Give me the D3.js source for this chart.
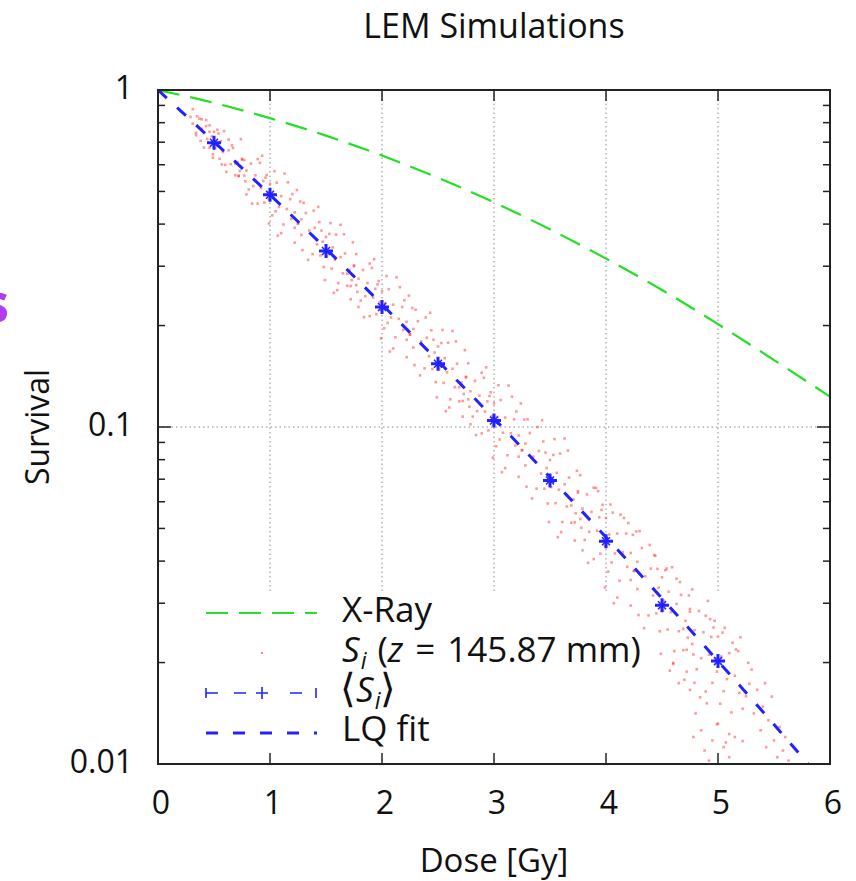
<!DOCTYPE html>
<html>
<head>
<meta charset="utf-8">
<script src="https://cdn.jsdelivr.net/npm/d3@7"></script>
<style>
  html, body { margin: 0; padding: 0; background: #fff; }
  svg { display: block; font-family: "Open Sans", "DejaVu Sans", sans-serif; }
</style>
</head>
<body>
<svg id="chart" width="856" height="881"></svg>
<script>
// ---------------- data ----------------
const xTicks = [0, 1, 2, 3, 4, 5, 6];
const yTicks = [1, 0.1, 0.01];
const yTickLabels = ["1", "0.1", "0.01"];

// X-Ray reference curve
const xrayDose = [0, 0.5, 1, 1.5, 2, 2.5, 3, 3.5, 4, 4.5, 5, 5.5, 6];
const xraySurvival = [1, 0.916, 0.825, 0.732, 0.639, 0.549, 0.464, 0.386, 0.316, 0.255, 0.202, 0.158, 0.123];

// LQ fit to the LEM simulations
const lqDose = [0, 0.5, 1, 1.5, 2, 2.5, 3, 3.5, 4, 4.5, 5, 5.5, 6];
const lqSurvival = [1, 0.702, 0.489, 0.338, 0.231, 0.157, 0.106, 0.0709, 0.0471, 0.0310, 0.0202, 0.0131, 0.0084];

// mean survival <S_i>
const meanDose = [0.5, 1, 1.5, 2, 2.5, 3, 3.5, 4, 4.5, 5];
const meanSurvival = [0.697, 0.489, 0.333, 0.227, 0.154, 0.1045, 0.0694, 0.0458, 0.0296, 0.0202];

// individual simulations S_i (dose, log10 survival), estimated from the point cloud
const scatterDose = [
  0.29,0.34,0.37,0.39,0.41,0.43,0.44,0.46,0.46,0.48,0.49,0.50,0.51,0.52,0.53,0.55,0.56,0.58,0.59,0.61,0.63,0.65,0.67,0.69,0.71,0.73,0.75,0.31,0.35,0.78,
  1.28,1.22,1.18,1.15,1.12,1.10,1.08,1.06,1.05,1.03,1.02,1.00,0.99,0.98,0.97,0.95,0.94,0.92,0.91,0.89,0.87,0.85,0.83,0.81,0.79,0.77,0.75,1.25,1.20,0.72,
  1.22,1.28,1.32,1.35,1.38,1.40,1.42,1.44,1.45,1.47,1.48,1.50,1.51,1.52,1.53,1.55,1.56,1.58,1.59,1.61,1.63,1.65,1.67,1.69,1.71,1.73,1.75,1.25,1.30,1.78,
  2.28,2.22,2.18,2.15,2.12,2.10,2.08,2.06,2.05,2.03,2.02,2.00,1.99,1.98,1.97,1.95,1.94,1.92,1.91,1.89,1.87,1.85,1.83,1.81,1.79,1.77,1.75,2.25,2.20,1.72,
  2.22,2.28,2.32,2.35,2.38,2.40,2.42,2.44,2.45,2.47,2.48,2.50,2.51,2.52,2.53,2.55,2.56,2.58,2.59,2.61,2.63,2.65,2.67,2.69,2.71,2.73,2.75,2.25,2.30,2.78,
  3.28,3.22,3.18,3.15,3.12,3.10,3.08,3.06,3.05,3.03,3.02,3.00,2.99,2.98,2.97,2.95,2.94,2.92,2.91,2.89,2.87,2.85,2.83,2.81,2.79,2.77,2.75,3.25,3.20,2.72,
  3.22,3.28,3.32,3.35,3.38,3.40,3.42,3.44,3.45,3.47,3.48,3.50,3.51,3.52,3.53,3.55,3.56,3.58,3.59,3.61,3.63,3.65,3.67,3.69,3.71,3.73,3.75,3.25,3.30,3.78,
  4.28,4.22,4.18,4.15,4.12,4.10,4.08,4.06,4.05,4.03,4.02,4.00,3.99,3.98,3.97,3.95,3.94,3.92,3.91,3.89,3.87,3.85,3.83,3.81,3.79,3.77,3.75,4.25,4.20,3.72,
  4.22,4.28,4.32,4.35,4.38,4.40,4.42,4.44,4.45,4.47,4.48,4.50,4.51,4.52,4.53,4.55,4.56,4.58,4.59,4.61,4.63,4.65,4.67,4.69,4.71,4.73,4.75,4.25,4.30,4.78,
  5.28,5.22,5.18,5.15,5.12,5.10,5.08,5.06,5.05,5.03,5.02,5.00,4.99,4.98,4.97,4.95,4.94,4.92,4.91,4.89,4.87,4.85,4.83,4.81,4.79,4.77,4.75,5.25,5.20,4.72,
  4.80,4.85,4.90,4.95,5.00,4.75,4.70,5.05,5.10,4.88,4.60,4.65,5.15,4.78,4.92,5.32,5.35,5.38,5.40,5.43,5.45,5.48,5.50,5.53,5.55,5.58,5.60,5.63,5.30,5.42,
  0.31,0.38,0.43,0.49,0.54,0.60,0.66,0.72,0.77,0.34,0.39,0.57,0.63,0.46,0.69,
  0.74,0.84,0.93,0.99,1.04,1.10,1.16,1.22,1.27,0.79,0.89,1.07,1.13,0.96,1.19,
  1.24,1.34,1.43,1.49,1.54,1.60,1.66,1.72,1.77,1.29,1.39,1.57,1.63,1.46,1.69,
  1.74,1.84,1.93,1.99,2.04,2.10,2.16,2.22,2.27,1.79,1.89,2.07,2.13,1.96,2.19,
  2.24,2.34,2.43,2.49,2.54,2.60,2.66,2.72,2.77,2.29,2.39,2.57,2.63,2.46,2.69,
  2.74,2.84,2.93,2.99,3.04,3.10,3.16,3.22,3.27,2.79,2.89,3.07,3.13,2.96,3.19,
  3.24,3.34,3.43,3.49,3.54,3.60,3.66,3.72,3.77,3.29,3.39,3.57,3.63,3.46,3.69,
  3.74,3.84,3.93,3.99,4.04,4.10,4.16,4.22,4.27,3.79,3.89,4.07,4.13,3.96,4.19,
  4.24,4.34,4.43,4.49,4.54,4.60,4.66,4.72,4.77,4.29,4.39,4.57,4.63,4.46,4.69,
  4.74,4.84,4.93,4.99,5.04,5.10,5.16,5.22,5.27,4.79,4.89,5.07,5.13,4.96,5.19
];
const scatterLog10S = [
  -0.080,-0.127,-0.085,-0.115,-0.171,-0.107,-0.145,-0.105,-0.171,-0.138,-0.201,-0.124,-0.172,-0.160,-0.118,-0.204,-0.152,-0.184,-0.122,-0.243,-0.179,-0.220,-0.172,-0.253,-0.214,-0.240,-0.207,-0.100,-0.078,-0.271,
  -0.384,-0.409,-0.324,-0.353,-0.399,-0.315,-0.347,-0.275,-0.360,-0.310,-0.372,-0.278,-0.324,-0.305,-0.252,-0.334,-0.270,-0.291,-0.216,-0.337,-0.253,-0.285,-0.218,-0.295,-0.239,-0.254,-0.204,-0.396,-0.309,-0.255,
  -0.363,-0.430,-0.365,-0.417,-0.487,-0.409,-0.458,-0.392,-0.491,-0.450,-0.525,-0.436,-0.493,-0.478,-0.427,-0.530,-0.467,-0.504,-0.429,-0.573,-0.496,-0.544,-0.485,-0.581,-0.534,-0.564,-0.523,-0.396,-0.335,-0.599,
  -0.709,-0.741,-0.644,-0.679,-0.734,-0.637,-0.675,-0.591,-0.691,-0.633,-0.707,-0.597,-0.652,-0.629,-0.567,-0.665,-0.590,-0.616,-0.528,-0.671,-0.573,-0.612,-0.534,-0.625,-0.560,-0.579,-0.520,-0.725,-0.624,-0.582,
  -0.688,-0.764,-0.686,-0.746,-0.826,-0.735,-0.790,-0.713,-0.828,-0.779,-0.867,-0.761,-0.828,-0.810,-0.751,-0.869,-0.796,-0.838,-0.750,-0.918,-0.827,-0.882,-0.812,-0.924,-0.868,-0.902,-0.853,-0.726,-0.652,-0.940,
  -1.049,-1.088,-0.977,-1.019,-1.084,-0.972,-1.017,-0.920,-1.037,-0.970,-1.057,-0.930,-0.994,-0.968,-0.897,-1.010,-0.924,-0.954,-0.854,-1.019,-0.907,-0.953,-0.863,-0.969,-0.894,-0.918,-0.851,-1.069,-0.954,-0.923,
  -1.025,-1.114,-1.018,-1.088,-1.183,-1.071,-1.138,-1.043,-1.183,-1.122,-1.227,-1.098,-1.178,-1.156,-1.083,-1.226,-1.136,-1.186,-1.079,-1.282,-1.170,-1.236,-1.150,-1.284,-1.215,-1.256,-1.195,-1.069,-0.977,-1.299,
  -1.400,-1.454,-1.316,-1.372,-1.456,-1.316,-1.375,-1.254,-1.402,-1.319,-1.429,-1.270,-1.352,-1.320,-1.231,-1.376,-1.268,-1.308,-1.181,-1.392,-1.252,-1.311,-1.200,-1.335,-1.242,-1.273,-1.190,-1.427,-1.285,-1.283,
  -1.374,-1.481,-1.359,-1.443,-1.559,-1.420,-1.500,-1.382,-1.553,-1.477,-1.606,-1.446,-1.544,-1.516,-1.425,-1.601,-1.489,-1.549,-1.416,-1.665,-1.525,-1.606,-1.498,-1.662,-1.575,-1.625,-1.548,-1.427,-1.309,-1.675,
  -1.762,-1.836,-1.665,-1.738,-1.847,-1.671,-1.748,-1.596,-1.784,-1.681,-1.821,-1.622,-1.726,-1.686,-1.575,-1.759,-1.623,-1.676,-1.516,-1.785,-1.609,-1.686,-1.546,-1.719,-1.603,-1.644,-1.540,-1.799,-1.624,-1.661,
  -1.85,-1.90,-1.82,-1.93,-1.88,-1.78,-1.75,-1.95,-1.98,-1.96,-1.70,-1.76,-1.92,-1.92,-1.99,-1.85,-1.78,-1.90,-1.83,-1.95,-1.87,-1.80,-1.93,-1.98,-1.89,-1.96,-1.92,-1.99,-1.72,-1.76,
  -0.057,-0.151,-0.089,-0.191,-0.129,-0.222,-0.164,-0.255,-0.208,-0.134,-0.087,-0.221,-0.147,-0.124,-0.218,
  -0.146,-0.337,-0.195,-0.396,-0.241,-0.425,-0.274,-0.453,-0.331,-0.310,-0.205,-0.432,-0.248,-0.260,-0.382,
  -0.297,-0.504,-0.347,-0.564,-0.395,-0.594,-0.428,-0.621,-0.487,-0.475,-0.358,-0.602,-0.400,-0.417,-0.545,
  -0.452,-0.674,-0.502,-0.737,-0.552,-0.767,-0.585,-0.793,-0.647,-0.644,-0.515,-0.776,-0.556,-0.577,-0.712,
  -0.610,-0.847,-0.661,-0.912,-0.712,-0.942,-0.746,-0.969,-0.811,-0.816,-0.675,-0.953,-0.715,-0.741,-0.882,
  -0.772,-1.024,-0.823,-1.091,-0.876,-1.122,-0.910,-1.148,-0.978,-0.992,-0.839,-1.134,-0.877,-0.908,-1.055,
  -0.930,-1.212,-0.980,-1.282,-1.036,-1.312,-1.070,-1.337,-1.143,-1.177,-1.000,-1.327,-1.034,-1.076,-1.233,
  -1.130,-1.403,-1.190,-1.476,-1.230,-1.506,-1.270,-1.530,-1.310,-1.366,-1.180,-1.523,-1.260,-1.246,-1.415,
  -1.320,-1.597,-1.380,-1.673,-1.420,-1.703,-1.460,-1.726,-1.482,-1.558,-1.350,-1.723,-1.450,-1.421,-1.599,
  -1.500,-1.802,-1.570,-1.882,-1.610,-1.911,-1.660,-1.932,-1.700,-1.759,-1.560,-1.936,-1.640,-1.595,-1.789
];

// ---------------- layout ----------------
const svg = d3.select("#chart");
const L = 158, R = 830, T = 90, B = 764;
const x = d3.scaleLinear().domain([0, 6]).range([L, R]);
const y = d3.scaleLog().domain([0.01, 1]).range([B, T]);

const GREEN = "#22e022", BLUE = "#2222ff", RED = "#ff2020";

svg.append("defs").append("clipPath").attr("id", "plotclip")
  .append("rect").attr("x", L).attr("y", T).attr("width", R - L).attr("height", B - T);

// grid (dotted), hidden under the key area
const grid = svg.append("g");
[1, 2, 3, 4, 5].forEach(v => {
  grid.append("line").attr("x1", x(v)).attr("x2", x(v)).attr("y1", T).attr("y2", 591)
    .attr("stroke", "#888").attr("stroke-width", 1).attr("stroke-dasharray", "1.5,3");
});
grid.append("line").attr("x1", L).attr("x2", R).attr("y1", y(0.1)).attr("y2", y(0.1))
  .attr("stroke", "#888").attr("stroke-width", 1).attr("stroke-dasharray", "1.5,3");

const plot = svg.append("g").attr("clip-path", "url(#plotclip)");

// scatter S_i
const DOT = 2.6;
plot.append("g").selectAll("rect").data(d3.range(scatterDose.length)).join("rect")
  .attr("x", i => x(scatterDose[i]) - DOT / 2)
  .attr("y", i => y(Math.pow(10, scatterLog10S[i])) - DOT / 2)
  .attr("width", DOT).attr("height", DOT)
  .attr("fill", RED).attr("fill-opacity", 0.45);

// X-Ray curve
const lineGen = d3.line().curve(d3.curveMonotoneX);
plot.append("path")
  .attr("d", lineGen(xrayDose.map((d, i) => [x(d), y(xraySurvival[i])])))
  .attr("fill", "none").attr("stroke", GREEN).attr("stroke-width", 2.2)
  .attr("stroke-dasharray", "22,11");

// LQ fit
plot.append("path")
  .attr("d", lineGen(lqDose.map((d, i) => [x(d), y(lqSurvival[i])])))
  .attr("fill", "none").attr("stroke", BLUE).attr("stroke-width", 3)
  .attr("stroke-dasharray", "12,14");

// mean points
const means = plot.append("g");
meanDose.forEach((d, i) => {
  const cx = x(d), cy = y(meanSurvival[i]);
  means.append("path")
    .attr("d", `M${cx - 7},${cy}H${cx + 7}M${cx},${cy - 7}V${cy + 7}`)
    .attr("stroke", BLUE).attr("stroke-width", 3).attr("fill", "none");
  means.append("path")
    .attr("d", `M${cx - 4},${cy - 4}L${cx + 4},${cy + 4}M${cx - 4},${cy + 4}L${cx + 4},${cy - 4}`)
    .attr("stroke", BLUE).attr("stroke-width", 1.5).attr("fill", "none");
});

// ---------------- axes / border ----------------
const ax = svg.append("g");
xTicks.forEach(v => {
  ax.append("line").attr("x1", x(v)).attr("x2", x(v)).attr("y1", B).attr("y2", B - 11).attr("stroke", "#222").attr("stroke-width", 1.5);
  ax.append("line").attr("x1", x(v)).attr("x2", x(v)).attr("y1", T).attr("y2", T + 11).attr("stroke", "#222").attr("stroke-width", 1.5);
});
const yMinor = [];
[0.01, 0.1].forEach(base => { for (let k = 2; k <= 9; k++) yMinor.push(base * k); });
yTicks.forEach(v => {
  ax.append("line").attr("x1", L).attr("x2", L + 13).attr("y1", y(v)).attr("y2", y(v)).attr("stroke", "#222").attr("stroke-width", 1.5);
  ax.append("line").attr("x1", R).attr("x2", R - 13).attr("y1", y(v)).attr("y2", y(v)).attr("stroke", "#222").attr("stroke-width", 1.5);
});
yMinor.forEach(v => {
  ax.append("line").attr("x1", L).attr("x2", L + 7).attr("y1", y(v)).attr("y2", y(v)).attr("stroke", "#222").attr("stroke-width", 1.5);
  ax.append("line").attr("x1", R).attr("x2", R - 7).attr("y1", y(v)).attr("y2", y(v)).attr("stroke", "#222").attr("stroke-width", 1.5);
});
ax.append("rect").attr("x", L).attr("y", T).attr("width", R - L).attr("height", B - T)
  .attr("fill", "none").attr("stroke", "#222").attr("stroke-width", 2);

// tick labels
const tickFont = 32;
xTicks.forEach(v => {
  svg.append("text").attr("x", x(v) + 3).attr("y", 814).attr("text-anchor", "middle")
    .attr("font-size", tickFont).attr("fill", "#111").text(String(v));
});
yTicks.forEach((v, i) => {
  svg.append("text").attr("x", 133).attr("y", y(v) + 9).attr("text-anchor", "end")
    .attr("font-size", tickFont).attr("fill", "#111").text(yTickLabels[i]);
});

// titles
svg.append("text").attr("x", 494).attr("y", 38).attr("text-anchor", "middle")
  .attr("font-size", 34).attr("fill", "#111").text("LEM Simulations");
svg.append("text").attr("x", 494).attr("y", 872).attr("text-anchor", "middle")
  .attr("font-size", 33).attr("fill", "#111").text("Dose [Gy]");
svg.append("text").attr("transform", "translate(49,427) rotate(-90)").attr("text-anchor", "middle")
  .attr("font-size", 32).attr("fill", "#111").text("Survival");

// cut-off purple letter at the left edge
svg.append("text").attr("x", 9).attr("y", 322).attr("text-anchor", "end")
  .attr("font-size", 54).attr("font-weight", "bold").attr("fill", "#b43cf0").text("s");

// ---------------- legend ----------------
const lg = svg.append("g");
const lx1 = 206, lx2 = 317, tx = 342;
const legendFont = 35;
// X-Ray
lg.append("line").attr("x1", lx1).attr("x2", lx2).attr("y1", 613).attr("y2", 613)
  .attr("stroke", GREEN).attr("stroke-width", 2.2).attr("stroke-dasharray", "22,11");
lg.append("text").attr("x", tx).attr("y", 622).attr("font-size", legendFont).attr("fill", "#111").text("X-Ray");
// S_i
lg.append("rect").attr("x", 261).attr("y", 652).attr("width", 2).attr("height", 2).attr("fill", RED).attr("fill-opacity", 0.55);
const t2 = lg.append("text").attr("x", tx).attr("y", 662).attr("font-size", legendFont).attr("fill", "#111");
t2.append("tspan").attr("font-style", "italic").text("S");
t2.append("tspan").attr("font-style", "italic").attr("font-size", 23).attr("dy", 7).attr("dx", 1).text("i");
t2.append("tspan").attr("dy", -7).attr("dx", 11).text("(");
t2.append("tspan").attr("font-style", "italic").text("z");
t2.append("tspan").attr("dx", 12).text("=");
t2.append("tspan").attr("dx", 12).text("145.87 mm)");
// <S_i>
lg.append("path")
  .attr("d", `M${lx1},688V698M${lx1},693H${lx1 + 12}M${lx1 + 28},693H${lx1 + 40}M${lx1 + 50},693H${lx1 + 62}M${lx1 + 56},687V699M${lx1 + 84},693H${lx1 + 96}M${lx2 - 1},688V698`)
  .attr("stroke", BLUE).attr("stroke-width", 1.6).attr("fill", "none");
const t3 = lg.append("text").attr("x", tx - 2).attr("y", 702).attr("font-size", legendFont).attr("fill", "#111");
t3.append("tspan").attr("font-family", "DejaVu Sans").attr("font-size", 40).attr("font-weight", 300).text("\u27E8");
t3.append("tspan").attr("font-style", "italic").text("S");
t3.append("tspan").attr("font-style", "italic").attr("font-size", 23).attr("dy", 7).attr("dx", 1).text("i");
t3.append("tspan").attr("dy", -7).attr("font-family", "DejaVu Sans").attr("font-size", 40).attr("font-weight", 300).text("\u27E9");
// LQ fit
lg.append("line").attr("x1", lx1).attr("x2", lx2).attr("y1", 733).attr("y2", 733)
  .attr("stroke", BLUE).attr("stroke-width", 3).attr("stroke-dasharray", "12,15");
lg.append("text").attr("x", tx).attr("y", 741).attr("font-size", legendFont).attr("fill", "#111").text("LQ fit");
</script>
</body>
</html>
